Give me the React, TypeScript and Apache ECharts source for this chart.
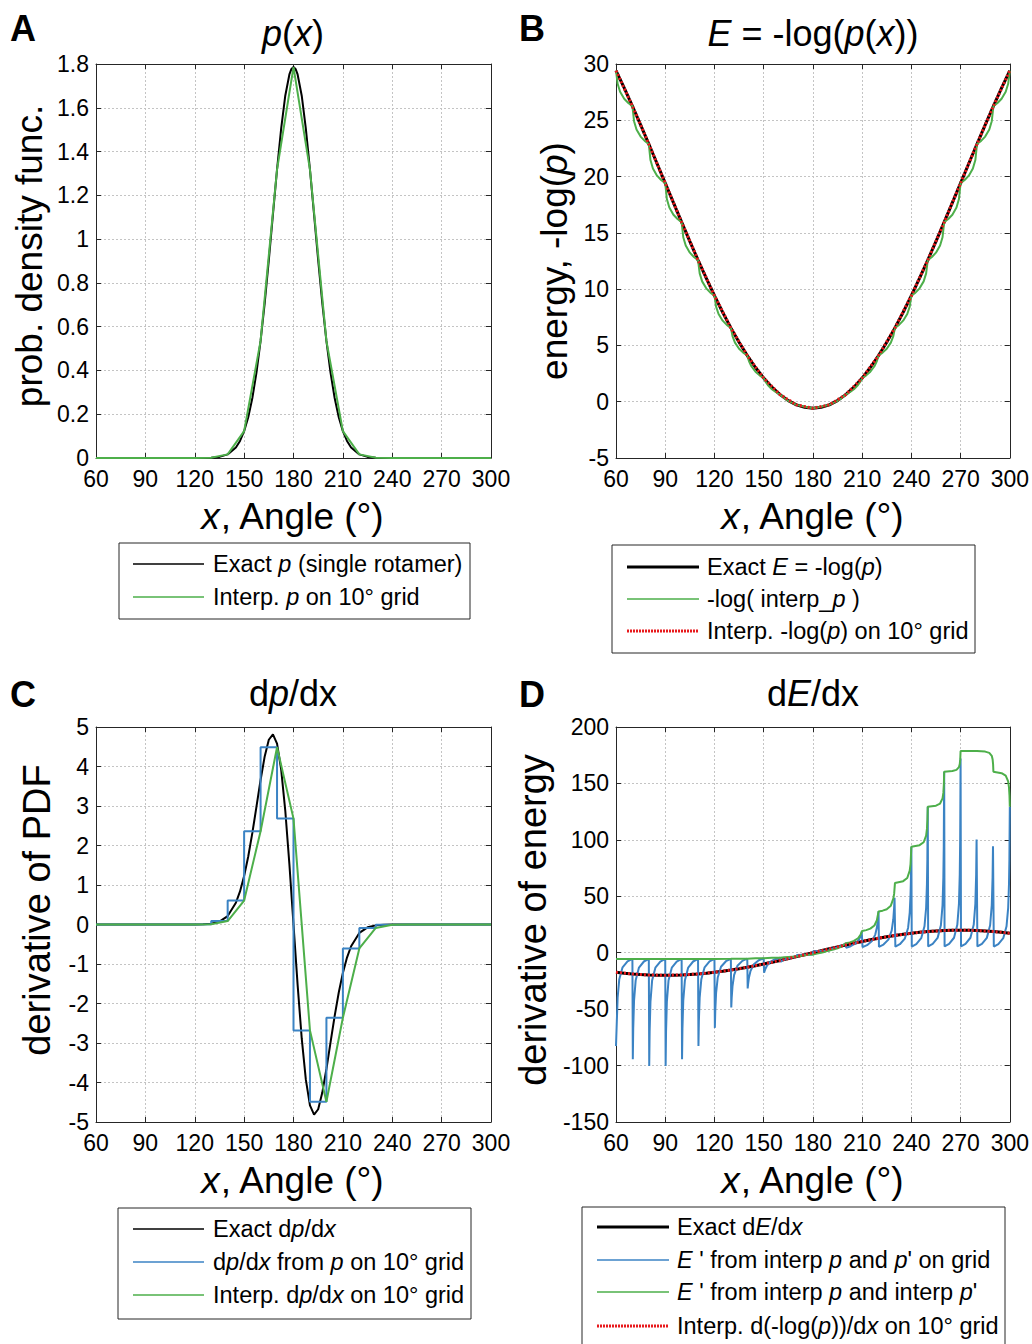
import React, { useEffect, useRef } from 'react';
import * as echarts from 'echarts';

const FONT = "'Liberation Sans', Arial, Helvetica, sans-serif";
const BLACK = '#000000';
const GREEN = '#4daf4a';
const BLUE = '#3b83c4';
const RED = '#e8191c';
const AX = '#262626';

// 10-degree grid positions
const gridX = [60, 70, 80, 90, 100, 110, 120, 130, 140, 150, 160, 170, 180, 190, 200, 210, 220, 230, 240, 250, 260, 270, 280, 290, 300];
// 5-degree positions
const x5 = [60, 65, 70, 75, 80, 85, 90, 95, 100, 105, 110, 115, 120, 125, 130, 135, 140, 145, 150, 155, 160, 165, 170, 175, 180,
  185, 190, 195, 200, 205, 210, 215, 220, 225, 230, 235, 240, 245, 250, 255, 260, 265, 270, 275, 280, 285, 290, 295, 300];

// ---------- Panel A: p(x)
const pExact = [[60, 0], [90, 0], [110, 0.000003], [120, 0.00008], [125, 0.00035], [130, 0.0014], [135, 0.0051], [140, 0.0166], [145, 0.048], [147.5, 0.078],
  [150, 0.1225], [152.5, 0.1864], [155, 0.2742], [157.5, 0.3897], [160, 0.5347], [162.5, 0.7077], [165, 0.9035], [167.5, 1.1117], [170, 1.318], [172.5, 1.5051],
  [175, 1.6551], [177.5, 1.7523], [178.75, 1.7775], [180, 1.786], [181.25, 1.7775], [182.5, 1.7523], [185, 1.6551], [187.5, 1.5051], [190, 1.318], [192.5, 1.1117],
  [195, 0.9035], [197.5, 0.7077], [200, 0.5347], [202.5, 0.3897], [205, 0.2742], [207.5, 0.1864], [210, 0.1225], [212.5, 0.078], [215, 0.048], [220, 0.0166],
  [225, 0.0051], [230, 0.0014], [235, 0.00035], [240, 0.00008], [250, 0.000003], [270, 0], [300, 0]];
const pOnGrid = [0, 0, 0, 0, 0, 0, 0.0001, 0.0014, 0.0166, 0.1225, 0.5347, 1.318, 1.786, 1.318, 0.5347, 0.1225, 0.0166, 0.0014, 0.0001, 0, 0, 0, 0, 0, 0];

// ---------- Panel B: E = -log(p)
const eExact = [29.42, 27.87, 26.26, 24.60, 22.89, 21.16, 19.42, 17.68, 15.95, 14.24, 12.58, 10.97, 9.42, 7.95, 6.56, 5.28, 4.10, 3.04, 2.10, 1.29, 0.63, 0.10, -0.28, -0.50, -0.58,
  -0.50, -0.28, 0.10, 0.63, 1.29, 2.10, 3.04, 4.10, 5.28, 6.56, 7.95, 9.42, 10.97, 12.58, 14.24, 15.95, 17.68, 19.42, 21.16, 22.89, 24.60, 26.26, 27.87, 29.42];
const eLogInterp = [
  [60, 29.42], [61, 28.24], [62.5, 27.53], [65, 26.91], [67.5, 26.53], [70, 26.26],
  [71, 24.92], [72.5, 24.18], [75, 23.55], [77.5, 23.17], [80, 22.89],
  [81, 21.47], [82.5, 20.72], [85, 20.08], [87.5, 19.70], [90, 19.42],
  [91, 18.00], [92.5, 17.25], [95, 16.61], [97.5, 16.23], [100, 15.95],
  [101, 14.61], [102.5, 13.87], [105, 13.24], [107.5, 12.86], [110, 12.58],
  [111, 11.40], [112.5, 10.69], [115, 10.07], [117.5, 9.69], [120, 9.42],
  [121, 8.45], [122.5, 7.79], [125, 7.20], [127.5, 6.83], [130, 6.56],
  [131, 5.83], [132.5, 5.25], [135, 4.71], [137.5, 4.36], [140, 4.10],
  [141, 3.61], [142.5, 3.15], [145, 2.67], [147.5, 2.34], [150, 2.10],
  [151, 1.81], [152.5, 1.49], [155, 1.11], [157.5, 0.84], [160, 0.63],
  [162.5, 0.32], [165, 0.08], [167.5, -0.11], [170, -0.28],
  [175, -0.44], [180, -0.58], [185, -0.44], [190, -0.28],
  [192.5, -0.11], [195, 0.08], [197.5, 0.32], [200, 0.63],
  [202.5, 0.84], [205, 1.11], [207.5, 1.49], [209, 1.81], [210, 2.10],
  [212.5, 2.34], [215, 2.67], [217.5, 3.15], [219, 3.61], [220, 4.10],
  [222.5, 4.36], [225, 4.71], [227.5, 5.25], [229, 5.83], [230, 6.56],
  [232.5, 6.83], [235, 7.20], [237.5, 7.79], [239, 8.45], [240, 9.42],
  [242.5, 9.69], [245, 10.07], [247.5, 10.69], [249, 11.40], [250, 12.58],
  [252.5, 12.86], [255, 13.24], [257.5, 13.87], [259, 14.61], [260, 15.95],
  [262.5, 16.23], [265, 16.61], [267.5, 17.25], [269, 18.00], [270, 19.42],
  [272.5, 19.70], [275, 20.08], [277.5, 20.72], [279, 21.47], [280, 22.89],
  [282.5, 23.17], [285, 23.55], [287.5, 24.18], [289, 24.92], [290, 26.26],
  [292.5, 26.53], [295, 26.91], [297.5, 27.53], [299, 28.24], [300, 29.42]];
const eOnGrid = [29.42, 26.26, 22.89, 19.42, 15.95, 12.58, 9.42, 6.56, 4.10, 2.10, 0.63, -0.28, -0.58, -0.28, 0.63, 2.10, 4.10, 6.56, 9.42, 12.58, 15.95, 19.42, 22.89, 26.26, 29.42];

// ---------- Panel C: dp/dx
const dpExact = [[60, 0], [100, 0], [120, 0.0014], [125, 0.0058], [130, 0.0216], [135, 0.072], [140, 0.213], [145, 0.551], [147.5, 0.837], [150, 1.225],
  [152.5, 1.721], [155, 2.318], [157.5, 2.983], [160, 3.658], [162.5, 4.256], [165, 4.677], [167.5, 4.812], [170, 4.577], [172.5, 3.929], [175, 2.885],
  [177.5, 1.529], [180, 0], [182.5, -1.529], [185, -2.885], [187.5, -3.929], [190, -4.577], [192.5, -4.812], [195, -4.677], [197.5, -4.256], [200, -3.658],
  [202.5, -2.983], [205, -2.318], [207.5, -1.721], [210, -1.225], [212.5, -0.837], [215, -0.551], [220, -0.213], [225, -0.072], [230, -0.0216], [235, -0.0058],
  [240, -0.0014], [260, 0], [300, 0]];
// finite difference of p on each 10-degree interval (value held from the interval start)
const dpStep = [0, 0, 0, 0, 0, 0, 0.0076, 0.087, 0.607, 2.362, 4.488, 2.681, -2.681, -4.488, -2.362, -0.607, -0.087, -0.0076, 0, 0, 0, 0, 0, 0, 0];
const dpInterp = [0, 0, 0, 0, 0, 0, 0, 0.0076, 0.087, 0.607, 2.362, 4.488, 2.681, -2.681, -4.488, -2.362, -0.607, -0.087, -0.0076, 0, 0, 0, 0, 0, 0];

// ---------- Panel D: dE/dx
const dEExact = [-17.32, -18.13, -18.79, -19.32, -19.70, -19.92, -20.00, -19.92, -19.70, -19.32, -18.79, -18.13, -17.32, -16.38, -15.32, -14.14, -12.86, -11.47, -10.00, -8.45, -6.84, -5.18, -3.47, -1.74, 0,
  1.74, 3.47, 5.18, 6.84, 8.45, 10.00, 11.47, 12.86, 14.14, 15.32, 16.38, 17.32, 18.13, 18.79, 19.32, 19.70, 19.92, 20.00, 19.92, 19.70, 19.32, 18.79, 18.13, 17.32];
const dEBlue = [
  [60, -82.7], [60.5, -60.8], [61, -39.7], [62, -23.45], [64, -12.9], [67, -7.70], [70, -5.49],
  [70.25, -94.4], [70.5, -66.8], [71, -42.2], [72, -24.3], [74, -13.15], [77, -7.79], [80, -5.53],
  [80.25, -100.4], [80.5, -69.8], [81, -43.4], [82, -24.7], [84, -13.26], [87, -7.83], [90, -5.55],
  [90.25, -100.4], [90.5, -69.8], [91, -43.4], [92, -24.7], [94, -13.26], [97, -7.83], [100, -5.55],
  [100.25, -94.4], [100.5, -66.8], [101, -42.2], [102, -24.3], [104, -13.15], [107, -7.79], [110, -5.53],
  [110.25, -82.7], [110.5, -60.8], [111, -39.7], [112, -23.45], [114, -12.9], [117, -7.70], [120, -5.49],
  [120.25, -66.6], [120.5, -51.6], [121, -35.6], [122, -21.95], [124, -12.43], [127, -7.53], [130, -5.40],
  [130.25, -48.6], [130.5, -40.1], [131, -29.7], [132, -19.56], [134, -11.62], [137, -7.23], [140, -5.24],
  [140.25, -31.6], [140.5, -27.75], [141, -22.3], [142, -16.07], [144, -10.30], [147, -6.69], [150, -4.95],
  [150.25, -17.76], [150.5, -16.48], [151, -14.41], [152, -11.51], [154, -8.21], [157, -5.74], [160, -4.42],
  [160.25, -8.10], [161, -7.33], [162, -6.50], [164, -5.30], [167, -4.15], [170, -3.41],
  [170.25, -2.03], [175, -1.73], [180, -1.50],
  [180.25, 1.50], [185, 1.73], [190, 2.03],
  [190.25, 3.41], [192.5, 4.00], [195, 4.85], [197.5, 6.14], [200, 8.39],
  [200.25, 4.42], [203, 5.74], [206, 8.21], [208, 11.51], [209, 14.41], [209.5, 16.48], [209.75, 18.6],
  [210.25, 4.95], [213, 6.69], [216, 10.30], [218, 16.07], [219, 22.3], [219.5, 27.75], [219.75, 31.6], [220, 36.6],
  [220.25, 5.24], [223, 7.23], [226, 11.62], [228, 19.56], [229, 29.7], [229.5, 40.1], [229.75, 48.6],
  [230.25, 5.40], [233, 7.53], [236, 12.43], [238, 21.95], [239, 35.6], [239.5, 51.6], [239.75, 66.6], [240, 93.9],
  [240.25, 5.49], [243, 7.70], [246, 12.9], [248, 23.45], [249, 39.7], [249.5, 60.8], [249.75, 82.7], [250, 129.3],
  [250.25, 5.53], [253, 7.79], [256, 13.15], [258, 24.3], [259, 42.2], [259.5, 66.8], [259.75, 94.4], [260, 160.4],
  [260.25, 5.55], [263, 7.83], [266, 13.26], [268, 24.7], [269, 43.4], [269.5, 69.8], [269.75, 100.4], [270, 172],
  [270.25, 5.55], [273, 7.83], [276, 13.26], [278, 24.7], [279, 43.4], [279.5, 69.8], [279.75, 100.4],
  [280.25, 5.53], [283, 7.79], [286, 13.15], [288, 24.3], [289, 42.2], [289.5, 66.8], [289.75, 94.4],
  [290.25, 5.49], [293, 7.70], [296, 12.9], [298, 23.45], [299, 39.7], [299.5, 60.8], [299.75, 82.7], [300, 129.3]];
const dEGreen = [
  [60, -5.47], [70, -5.49], [80, -5.53], [90, -5.55], [100, -5.55], [110, -5.53], [120, -5.49], [130, -5.40], [140, -5.24], [145, -4.99], [150, -4.95],
  [152.5, -4.64], [155, -4.52], [160, -4.42], [162.5, -3.96], [165, -3.70], [167.5, -3.53], [170, -3.41], [172.5, -2.81], [175, -2.31], [177.5, -1.88],
  [180, -1.50], [182.5, -0.80], [185, 0], [187.5, 0.93], [190, 2.03], [192.5, 2.79], [195, 3.87], [197.5, 5.52], [200, 8.39], [202.5, 9.16], [205, 10.42],
  [207.5, 12.83], [209, 15.73], [210, 19.28], [212.5, 20.03], [215, 21.34], [217.5, 24.15], [219, 28.79], [220, 36.59], [222.5, 37.27], [225, 38.56],
  [227.5, 41.7], [229, 47.9], [229.5, 52.1], [230, 61.7], [235, 63.4], [237.5, 66.2], [239, 72.7], [239.5, 78.5], [240, 93.9], [245, 95.3], [247.5, 97.9],
  [249, 103.7], [249.5, 109.7], [249.8, 117.8], [250, 129.3], [255, 130.3], [257.5, 132.2], [259, 136.7], [259.5, 141.6], [259.8, 148.8], [260, 160.4],
  [265, 161.0], [267.5, 162.0], [269, 164.4], [269.5, 167.2], [269.8, 171.5], [270, 178.8], [280, 178.8], [285, 178.2], [287.5, 177.1], [289, 174.5],
  [289.5, 171.5], [289.8, 167.2], [290, 160.4], [295, 159.1], [297.5, 156.9], [299, 151.8], [299.5, 146.5], [299.8, 139.4], [300, 129.3]];
const dEOnGrid = [-17.32, -18.79, -19.70, -20.00, -19.70, -18.79, -17.32, -15.32, -12.86, -10.00, -6.84, -3.47, 0, 3.47, 6.84, 10.00, 12.86, 15.32, 17.32, 18.79, 19.70, 20.00, 19.70, 18.79, 17.32];

const zip = (xs: number[], ys: number[]) => xs.map((x, i) => [x, ys[i]]);

function axesFor(g: number, ymin: number, ymax: number, yint: number) {
  const line = { show: true, onZero: false, lineStyle: { color: AX, width: 1 } };
  const tick = { show: true, inside: true, length: 5, lineStyle: { color: AX, width: 1 } };
  const split = { show: true, lineStyle: { color: '#c4c4c4', width: 1, type: [2, 2] } };
  const xlab = { show: true, fontSize: 23, color: '#000', fontFamily: FONT, margin: 9 };
  const ylab = { show: true, fontSize: 23, color: '#000', fontFamily: FONT, margin: 7 };
  const xs = [
    { type: 'value', gridIndex: g, min: 60, max: 300, interval: 30, position: 'bottom', axisLine: line, axisTick: tick, axisLabel: xlab, splitLine: split },
    { type: 'value', gridIndex: g, min: 60, max: 300, interval: 30, position: 'top', axisLine: line, axisTick: tick, axisLabel: { show: false }, splitLine: { show: false } },
  ];
  const ys = [
    { type: 'value', gridIndex: g, min: ymin, max: ymax, interval: yint, position: 'left', axisLine: line, axisTick: tick, axisLabel: ylab, splitLine: split },
    { type: 'value', gridIndex: g, min: ymin, max: ymax, interval: yint, position: 'right', axisLine: line, axisTick: tick, axisLabel: { show: false }, splitLine: { show: false } },
  ];
  return { xs, ys };
}

function lineSeries(g: number, data: any[], color: string, width: number, extra: any = {}) {
  return {
    type: 'line', xAxisIndex: 2 * g, yAxisIndex: 2 * g, data, symbol: 'none', showSymbol: false, silent: true,
    animation: false, lineStyle: { color, width, ...(extra.lineStyle || {}) }, emphasis: { disabled: true },
    z: extra.z || 2, step: extra.step || false,
  };
}

const rich = (size: number) => ({ i: { fontStyle: 'italic', fontSize: size, fontFamily: FONT, fill: '#000' } });

function txt(x: number, y: number, text: string, size: number, o: any = {}) {
  return {
    type: 'text', x, y, rotation: o.rot || 0, silent: true, z: 100,
    style: {
      text, fontSize: size, fontFamily: FONT, fontWeight: o.bold ? 'bold' : 'normal', fill: '#000',
      align: o.align || 'center', verticalAlign: 'middle', rich: rich(size),
    },
  };
}

function legend(x: number, y: number, w: number, h: number, lx1: number, lx2: number, tx: number, rows: any[]) {
  const els: any[] = [{ type: 'rect', silent: true, z: 90, shape: { x, y, width: w, height: h }, style: { fill: '#fff', stroke: AX, lineWidth: 1 } }];
  rows.forEach((r) => {
    els.push({ type: 'line', silent: true, z: 95, shape: { x1: lx1, y1: r.y, x2: lx2, y2: r.y }, style: { stroke: r.color, lineWidth: r.w, lineDash: r.dash || null } });
    els.push(txt(tx, r.y, r.text, 23.5, { align: 'left' }));
  });
  return els;
}

export default function App() {
  const ref = useRef<HTMLDivElement>(null);
  useEffect(() => {
    const chart = echarts.init(ref.current!, null, { renderer: 'svg' });
    const a = axesFor(0, 0, 1.8, 0.2);
    const b = axesFor(1, -5, 30, 5);
    const c = axesFor(2, -5, 5, 1);
    const d = axesFor(3, -150, 200, 50);
    const dotted = { type: [2, 2] };
    const option: any = {
      animation: false,
      backgroundColor: '#fff',
      textStyle: { fontFamily: FONT },
      grid: [
        { left: 96, top: 64, width: 395, height: 394 },
        { left: 616, top: 64, width: 395, height: 394 },
        { left: 96, top: 727, width: 395, height: 395 },
        { left: 616, top: 727, width: 395, height: 395 },
      ],
      xAxis: [...a.xs, ...b.xs, ...c.xs, ...d.xs],
      yAxis: [...a.ys, ...b.ys, ...c.ys, ...d.ys],
      series: [
        lineSeries(0, pExact, BLACK, 2, { z: 2 }),
        lineSeries(0, zip(gridX, pOnGrid), GREEN, 2, { z: 3 }),

        lineSeries(1, zip(x5, eExact), BLACK, 3, { z: 2 }),
        lineSeries(1, eLogInterp, GREEN, 2, { z: 3 }),
        lineSeries(1, zip(gridX, eOnGrid), RED, 3, { z: 4, lineStyle: dotted }),

        lineSeries(2, dpExact, BLACK, 2, { z: 2 }),
        lineSeries(2, zip(gridX, dpStep), BLUE, 2, { z: 3, step: 'end' }),
        lineSeries(2, zip(gridX, dpInterp), GREEN, 2, { z: 4 }),

        lineSeries(3, zip(x5, dEExact), BLACK, 3, { z: 2 }),
        lineSeries(3, dEBlue, BLUE, 2, { z: 3 }),
        lineSeries(3, dEGreen, GREEN, 2, { z: 4 }),
        lineSeries(3, zip(gridX, dEOnGrid), RED, 3, { z: 5, lineStyle: dotted }),
      ],
      graphic: [
        txt(10, 28, 'A', 36, { bold: true, align: 'left' }),
        txt(519, 28, 'B', 36, { bold: true, align: 'left' }),
        txt(10, 694, 'C', 36, { bold: true, align: 'left' }),
        txt(519, 694, 'D', 36, { bold: true, align: 'left' }),

        txt(293, 33, '{i|p}({i|x})', 36),
        txt(813, 33, '{i|E} = -log({i|p}({i|x}))', 36),
        txt(293, 693, 'd{i|p}/dx', 36),
        txt(813, 693, 'd{i|E}/dx', 36),

        txt(293, 516, '{i|x}, Angle (°)', 37),
        txt(813, 516, '{i|x}, Angle (°)', 37),
        txt(293, 1180, '{i|x}, Angle (°)', 37),
        txt(813, 1180, '{i|x}, Angle (°)', 37),

        txt(29, 256, 'prob. density func.', 37, { rot: Math.PI / 2 }),
        txt(554, 261, 'energy, -log({i|p})', 37, { rot: Math.PI / 2 }),
        txt(37, 910, 'derivative of PDF', 38, { rot: Math.PI / 2 }),
        txt(533, 920, 'derivative of energy', 38, { rot: Math.PI / 2 }),

        ...legend(119, 543, 351, 76, 133, 204, 213, [
          { y: 564, color: BLACK, w: 1.5, text: 'Exact {i|p} (single rotamer)' },
          { y: 597, color: GREEN, w: 1.5, text: 'Interp. {i|p} on 10° grid' },
        ]),
        ...legend(612, 545, 363, 108, 627, 699, 707, [
          { y: 567, color: BLACK, w: 3, text: 'Exact {i|E} = -log({i|p})' },
          { y: 599, color: GREEN, w: 1.5, text: '-log( interp_{i|p} )' },
          { y: 631, color: RED, w: 3, dash: [2, 1], text: 'Interp. -log({i|p}) on 10° grid' },
        ]),
        ...legend(118, 1208, 353, 111, 133, 204, 213, [
          { y: 1229, color: BLACK, w: 1.5, text: 'Exact d{i|p}/d{i|x}' },
          { y: 1262, color: BLUE, w: 1.5, text: 'd{i|p}/d{i|x} from {i|p} on 10° grid' },
          { y: 1295, color: GREEN, w: 1.5, text: 'Interp. d{i|p}/d{i|x} on 10° grid' },
        ]),
        ...legend(582, 1207, 423, 150, 597, 669, 677, [
          { y: 1227, color: BLACK, w: 3, text: 'Exact d{i|E}/d{i|x}' },
          { y: 1260, color: BLUE, w: 1.5, text: "{i|E} ' from interp {i|p} and {i|p}' on grid" },
          { y: 1292, color: GREEN, w: 1.5, text: "{i|E} ' from interp {i|p} and interp {i|p}'" },
          { y: 1326, color: RED, w: 3, dash: [2, 1], text: 'Interp. d(-log({i|p}))/d{i|x} on 10° grid' },
        ]),
      ],
    };
    chart.setOption(option);
    return () => chart.dispose();
  }, []);
  return <div ref={ref} style={{ position: 'absolute', left: 0, top: 0, width: 1032, height: 1344, background: '#fff' }} />;
}
